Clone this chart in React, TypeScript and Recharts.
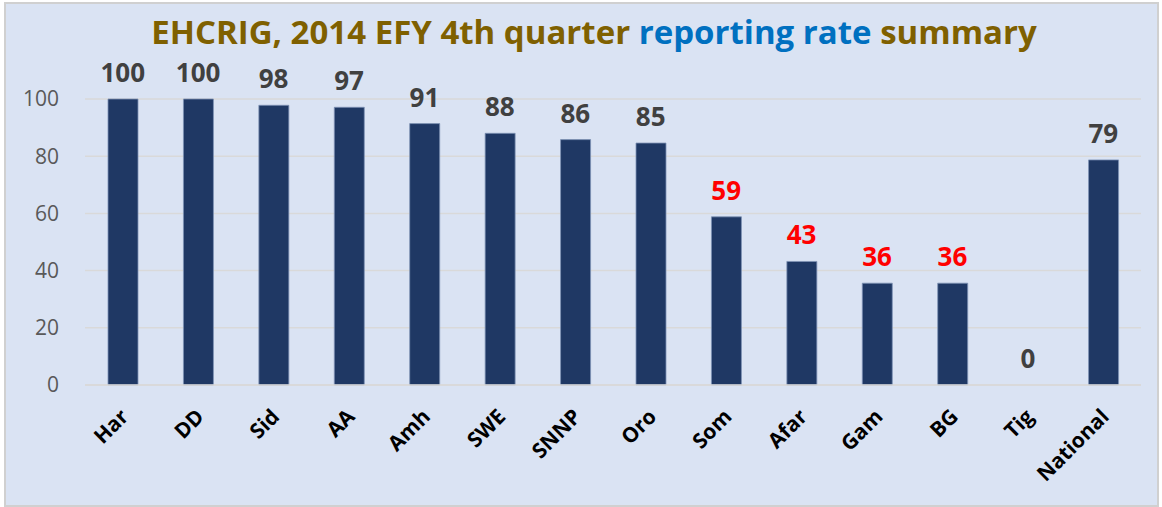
import React from "react";
import { ComposedChart, Bar, Line, XAxis, YAxis, CartesianGrid, LabelList } from "recharts";

const regions = ["Har", "DD", "Sid", "AA", "Amh", "SWE", "SNNP", "Oro", "Som", "Afar", "Gam", "BG", "Tig", "National"];
const rates = [100, 100, 97.8, 97.1, 91.4, 88.0, 85.8, 84.6, 58.8, 43.2, 35.6, 35.6, 0, 78.7];
const yTicks = [0, 20, 40, 60, 80, 100];

const data = regions.map((name, i) => ({ name, rate: rates[i] }));

const FONT = "'Open Sans', sans-serif";

const XTick = (props: any) => {
  const { x, y, payload } = props;
  return (
    <g transform={`translate(${x + 7},${y + 25})`}>
      <text
        transform="rotate(-45)"
        textAnchor="end"
        fontFamily={FONT}
        fontWeight={700}
        fontSize={21}
        fill="#000"
      >
        {payload.value}
      </text>
    </g>
  );
};

// labels hang off the (invisible) line so that the zero bar still gets one
const ValueLabel = (props: any) => {
  const { x, y, value } = props;
  const v = Math.round(value);
  const red = v > 0 && v < 60;
  return (
    <text
      x={x}
      y={y - 17}
      textAnchor="middle"
      fontFamily={FONT}
      fontWeight={700}
      fontSize={26}
      fill={red ? "#FF0000" : "#404040"}
    >
      {v}
    </text>
  );
};

export default function App() {
  return (
    <div
      style={{
        position: "absolute",
        left: 0,
        top: 0,
        width: 1162,
        height: 507,
        background: "#fff",
      }}
    >
      <div
        style={{
          position: "absolute",
          left: 4,
          top: 2,
          width: 1151,
          height: 501,
          background: "#DAE3F3",
          border: "2px solid #D0D0D0",
        }}
      />
      <div
        style={{
          position: "absolute",
          left: 13,
          top: 9,
          width: 1162,
          textAlign: "center",
          fontFamily: FONT,
          fontWeight: 700,
          fontSize: 33,
          color: "#7F6000",
        }}
      >
        EHCRIG, 2014 EFY 4th quarter <span style={{ color: "#0070C0" }}>reporting rate</span> summary
      </div>
      <div style={{ position: "absolute", left: 0, top: 0 }}>
        <ComposedChart
          width={1162}
          height={507}
          data={data}
          margin={{ top: 99, right: 21, bottom: 0, left: 0 }}
          barCategoryGap={0}
        >
          <CartesianGrid vertical={false} stroke="#D9D9D9" strokeWidth={1.5} />
          <YAxis
            domain={[0, 100]}
            ticks={yTicks}
            width={85}
            axisLine={false}
            tickLine={false}
            tickSize={0}
            tickMargin={26}
            tick={{ fill: "#595959", fontSize: 21, fontFamily: FONT }}
          />
          <XAxis
            dataKey="name"
            height={122}
            interval={0}
            axisLine={{ stroke: "#D9D9D9", strokeWidth: 1.5 }}
            tickLine={false}
            tick={<XTick />}
          />
          <Bar
            dataKey="rate"
            barSize={30}
            fill="#1F3864"
            stroke="#7F93B5"
            strokeWidth={0.8}
            isAnimationActive={false}
          />
          <Line
            dataKey="rate"
            stroke="none"
            dot={false}
            activeDot={false}
            isAnimationActive={false}
          >
            <LabelList dataKey="rate" content={<ValueLabel />} />
          </Line>
        </ComposedChart>
      </div>
    </div>
  );
}
